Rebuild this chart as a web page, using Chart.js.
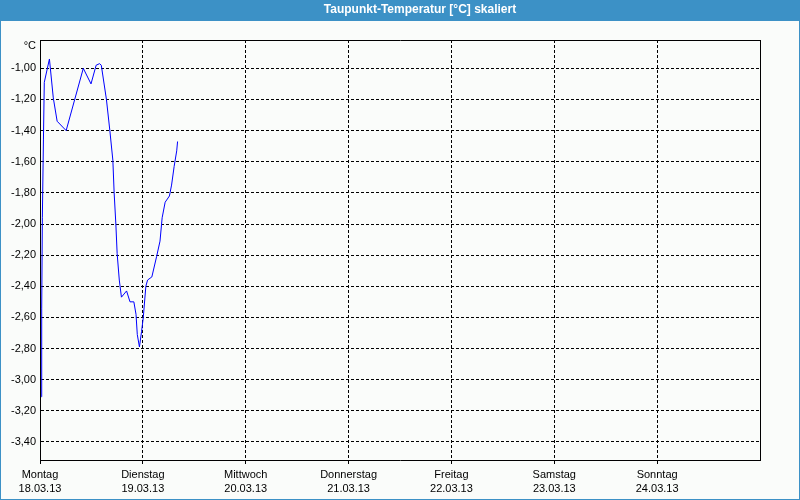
<!DOCTYPE html>
<html>
<head>
<meta charset="utf-8">
<script src="https://cdn.jsdelivr.net/npm/chart.js@4"></script>
<style>
  html, body { margin: 0; padding: 0; background: #fafcfa; }
  #wrap { width: 800px; height: 500px; position: relative; }
  canvas { display: block; }
</style>
</head>
<body>
<div id="wrap"><canvas id="c" width="800" height="500"></canvas></div>
<script>
// ---- data (hours since Monday 00:00, dew point °C) ----
const hours = [0.3, 0.4, 0.55, 0.8, 1.0, 2.2, 3.1, 4.0, 6.1, 10.1, 11.9, 13.1, 13.9, 14.3, 15.5, 16.3, 17.0, 17.3, 17.7, 18.0, 18.5, 19.0, 19.6, 20.2, 21.0, 21.9, 22.4, 22.7, 23.2, 23.7, 24.1, 24.7, 25.1, 26.1, 27.2, 28.0, 28.5, 29.2, 30.2, 30.7, 31.3, 31.9, 32.1];
const dewPoint = [-3.11, -2.54, -1.96, -1.46, -1.09, -0.94, -1.19, -1.34, -1.40, -1.00, -1.10, -0.98, -0.97, -0.98, -1.20, -1.40, -1.59, -1.80, -2.00, -2.19, -2.36, -2.47, -2.45, -2.43, -2.50, -2.50, -2.58, -2.71, -2.79, -2.69, -2.60, -2.40, -2.36, -2.34, -2.21, -2.11, -1.96, -1.86, -1.82, -1.75, -1.63, -1.53, -1.47];
const dayNames = ["Montag", "Dienstag", "Mittwoch", "Donnerstag", "Freitag", "Samstag", "Sonntag"];
const dayDates = ["18.03.13", "19.03.13", "20.03.13", "21.03.13", "22.03.13", "23.03.13", "24.03.13"];
const xTickHours = [0, 24, 48, 72, 96, 120, 144];
const yTickValues = [-1.0, -1.2, -1.4, -1.6, -1.8, -2.0, -2.2, -2.4, -2.6, -2.8, -3.0, -3.2, -3.4];
const titleText = "Taupunkt-Temperatur [°C] skaliert";
const unitText = "°C";

const Y_MIN = -3.516, Y_MAX = -0.818;
const BLUE = "#3c91c6";

Chart.defaults.font.family = "'Liberation Sans', Arial, sans-serif";
Chart.defaults.font.size = 11;
Chart.defaults.color = "#000";

const framePlugin = {
  id: "frame",
  beforeDraw(chart) {
    const ctx = chart.ctx;
    ctx.save();
    ctx.fillStyle = "#fafcfa";
    ctx.fillRect(0, 0, 800, 500);
    ctx.fillStyle = BLUE;
    ctx.fillRect(0, 0, 800, 21);
    ctx.fillRect(0, 0, 1, 500);
    ctx.fillRect(799, 0, 1, 500);
    ctx.fillRect(0, 499, 800, 1);
    ctx.restore();
  },
  afterDraw(chart) {
    const ctx = chart.ctx;
    const a = chart.chartArea;
    ctx.save();
    ctx.strokeStyle = "#000";
    ctx.lineWidth = 1;
    ctx.beginPath();
    ctx.moveTo(a.left, Math.round(a.top) + 0.5);
    ctx.lineTo(a.right + 1, Math.round(a.top) + 0.5);
    ctx.stroke();
    ctx.fillStyle = "#000";
    ctx.font = "11px 'Liberation Sans', Arial, sans-serif";
    ctx.textAlign = "right";
    ctx.textBaseline = "middle";
    ctx.fillText(unitText, a.left - 4, a.top + 6);
    ctx.restore();
  }
};

new Chart(document.getElementById("c"), {
  type: "line",
  data: {
    datasets: [{
      data: hours.map((h, i) => ({ x: h, y: dewPoint[i] })),
      borderColor: "#0000ff",
      borderWidth: 1,
      pointRadius: 0,
      tension: 0,
      fill: false
    }]
  },
  options: {
    responsive: false,
    animation: false,
    devicePixelRatio: 1,
    layout: { padding: { left: 40, right: 0, top: 0, bottom: 0 } },
    plugins: {
      legend: { display: false },
      tooltip: { enabled: false },
      title: {
        display: true,
        text: titleText,
        color: "#ffffff",
        font: { size: 12, weight: "bold", lineHeight: "14px" },
        padding: { top: 3, bottom: 23 }
      }
    },
    scales: {
      x: {
        type: "linear",
        min: 0,
        max: 168,
        afterBuildTicks: (s) => { s.ticks = xTickHours.map(v => ({ value: v })); },
        afterFit: (s) => { s.height = 40; },
        ticks: {
          autoSkip: false,
          maxRotation: 0,
          padding: 4,
          font: { size: 11, lineHeight: 1.3 },
          callback: (v, i) => [dayNames[i], dayDates[i]]
        },
        grid: {
          color: "#000",
          lineWidth: 1,
          tickLength: 4,
          tickColor: "#000",
          drawTicks: true
        },
        border: { display: true, color: "#000", width: 1, dash: [3, 2] }
      },
      y: {
        type: "linear",
        position: "left",
        min: Y_MIN,
        max: Y_MAX,
        afterBuildTicks: (s) => { s.ticks = yTickValues.map(v => ({ value: v })); },
        afterFit: (s) => { s.width = 0; },
        ticks: {
          autoSkip: false,
          mirror: true,
          padding: -29,
          callback: (v) => v.toFixed(2).replace(".", ",")
        },
        grid: { color: "#000", lineWidth: 1, drawTicks: false },
        border: { display: true, color: "#000", width: 1, dash: [3, 2] }
      },
      y2: {
        type: "linear",
        position: "right",
        min: Y_MIN,
        max: Y_MAX,
        afterFit: (s) => { s.width = 40; },
        ticks: { display: false },
        grid: { display: false, drawTicks: false },
        border: { display: true, color: "#000", width: 1 }
      }
    }
  },
  plugins: [framePlugin]
});
</script>
</body>
</html>
